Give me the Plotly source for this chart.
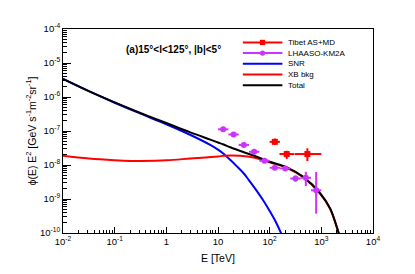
import plotly.graph_objects as go

# ---------------- data ----------------
# SNR model curve (E in TeV, E^2 phi in GeV s^-1 m^-2 sr^-1)
snr_E = [0.01, 0.0316, 0.1, 0.316, 1, 3.16, 7.08, 10, 12.8, 17.8, 23.2, 31.6, 38.9, 56.2, 75.9, 100, 126, 158, 200]
snr_phi = [3.39e-6, 1.48e-6, 6.76e-7, 3.24e-7, 1.58e-7, 7.24e-8, 3.89e-8, 2.82e-8, 2.14e-8, 1.35e-8,
           9.12e-9, 5.62e-9, 3.72e-9, 1.74e-9, 8.91e-10, 4.47e-10, 2.40e-10, 1.17e-10, 5.2e-11]

# XB background curve
xb_E = [0.01, 0.0316, 0.1, 0.2, 0.316, 1, 2.92, 10, 12.8, 17.8, 26.9, 56.2, 100, 214, 447, 955, 1480, 2140, 2510]
xb_phi = [1.86e-8, 1.55e-8, 1.38e-8, 1.32e-8, 1.32e-8, 1.38e-8, 1.55e-8, 1.78e-8, 1.86e-8, 1.91e-8,
          1.86e-8, 1.58e-8, 1.20e-8, 8.32e-9, 4.37e-9, 1.41e-9, 5.13e-10, 1.05e-10, 5.0e-11]

# Total curve
tot_E = [0.01, 0.0316, 0.1, 0.316, 1, 2.92, 7.08, 10, 12.8, 17.8, 31.6, 56.2, 100, 214, 447, 955, 1480, 2140, 2510]
tot_phi = [3.39e-6, 1.48e-6, 6.92e-7, 3.39e-7, 1.72e-7, 9.12e-8, 5.59e-8, 4.60e-8, 4.0e-8, 3.26e-8,
           2.38e-8, 1.75e-8, 1.245e-8, 8.5e-9, 4.47e-9, 1.45e-9, 5.25e-10, 1.07e-10, 5.0e-11]

# LHAASO-KM2A data
lh_E = [12.6, 20.0, 31.6, 50.1, 79.4, 126, 200, 316, 501, 794]
lh_phi = [1.12e-7, 7.9e-8, 3.9e-8, 2.45e-8, 1.33e-8, 8.3e-9, 7.9e-9, 4.0e-9, 4.2e-9, 1.8e-9]
lh_err_up = [1.96e-8, 1.38e-8, 6.8e-9, 4.3e-9, 2.3e-9, 1.5e-9, 1.4e-9, 0.9e-9, 2.1e-9, 4.5e-9]
lh_err_dn = [1.67e-8, 1.18e-8, 5.8e-9, 3.7e-9, 2.0e-9, 1.2e-9, 1.2e-9, 0.8e-9, 1.8e-9, 1.43e-9]
lh_E_lo = [2.6, 4.1, 6.5, 10.3, 16.4, 26, 41, 65, 103, 164]
lh_E_hi = [3.3, 5.2, 8.2, 13.0, 20.6, 33, 52, 82, 130, 206]

# Tibet AS+MD data
tb_E = [126, 214, 537]
tb_phi = [4.8e-8, 2.1e-8, 2.1e-8]
tb_err_up = [1.2e-8, 0.53e-8, 1.0e-8]
tb_err_dn = [0.9e-8, 0.59e-8, 0.8e-8]
tb_E_lo = [26, 59, 228]
tb_E_hi = [32, 88, 463]

x_tick_vals = [1e-2, 1e-1, 1, 10, 1e2, 1e3, 1e4]
x_tick_text = ["10<sup>-2</sup>", "10<sup>-1</sup>", "1", "10", "10<sup>2</sup>", "10<sup>3</sup>", "10<sup>4</sup>"]
y_tick_vals = [1e-10, 1e-9, 1e-8, 1e-7, 1e-6, 1e-5, 1e-4]
y_tick_text = ["10<sup>-10</sup>", "10<sup>-9</sup>", "10<sup>-8</sup>", "10<sup>-7</sup>",
               "10<sup>-6</sup>", "10<sup>-5</sup>", "10<sup>-4</sup>"]

legend_names = ["Tibet AS+MD", "LHAASO-KM2A", "SNR", "XB bkg", "Total"]
legend_colors = ["#ff0000", "#cc33ff", "#0000ff", "#ff0000", "#000000"]

FONT = "Liberation Sans, Arial, sans-serif"
VIOLET = "#cc33ff"

x_minor = [m * 10 ** d for d in range(-2, 4) for m in range(2, 10)]
y_minor = [m * 10.0 ** d for d in range(-10, -4) for m in range(2, 10)]

fig = go.Figure()

fig.add_trace(go.Scatter(x=snr_E, y=snr_phi, mode="lines", line=dict(color="#0000ff", width=2, shape="spline"),
                         showlegend=False))
fig.add_trace(go.Scatter(x=xb_E, y=xb_phi, mode="lines", line=dict(color="#ff0000", width=2, shape="spline"),
                         showlegend=False))
fig.add_trace(go.Scatter(x=tot_E, y=tot_phi, mode="lines", line=dict(color="#000000", width=2, shape="spline"),
                         showlegend=False))

fig.add_trace(go.Scatter(
    x=lh_E, y=lh_phi, mode="markers",
    marker=dict(symbol="circle", size=6, color=VIOLET),
    error_y=dict(type="data", symmetric=False, array=lh_err_up, arrayminus=lh_err_dn,
                 width=0, thickness=2, color=VIOLET),
    error_x=dict(type="data", symmetric=False, array=lh_E_hi, arrayminus=lh_E_lo,
                 width=0, thickness=2, color=VIOLET),
    showlegend=False))

fig.add_trace(go.Scatter(
    x=tb_E, y=tb_phi, mode="markers",
    marker=dict(symbol="square", size=6, color="#ff0000"),
    error_y=dict(type="data", symmetric=False, array=tb_err_up, arrayminus=tb_err_dn,
                 width=0, thickness=2, color="#ff0000"),
    error_x=dict(type="data", symmetric=False, array=tb_E_hi, arrayminus=tb_E_lo,
                 width=0, thickness=2, color="#ff0000"),
    showlegend=False))

axis_common = dict(type="log", showline=True, linecolor="#000000", linewidth=1, mirror=True,
                   ticks="inside", tickcolor="#000000", showgrid=False, zeroline=False,
                   tickfont=dict(family=FONT, size=9.5, color="#000000"))

fig.update_xaxes(range=[-2, 4], tickmode="array", tickvals=x_tick_vals, ticktext=x_tick_text, ticklen=6,
                 minor=dict(tickmode="array", tickvals=x_minor, ticks="inside", ticklen=3, tickcolor="#000000"),
                 **axis_common)
fig.update_yaxes(range=[-10, -4], tickmode="array", tickvals=y_tick_vals, ticktext=y_tick_text, ticklen=8,
                 minor=dict(tickmode="array", tickvals=y_minor, ticks="inside", ticklen=4, tickcolor="#000000"),
                 title=dict(text="ϕ(E) E<sup>2</sup> [GeV s<sup>-1</sup>m<sup>-2</sup>sr<sup>-1</sup>]"
                                 + "\u00a0" * 8,
                            font=dict(family=FONT, size=10.5, color="#000000"), standoff=1),
                 **axis_common)

annotations = [
    dict(text="<b>(a)15°<l<125°, |b|<5°</b>", xref="paper", yref="paper", x=0.1975, y=0.898,
         xanchor="left", yanchor="middle", showarrow=False, font=dict(family=FONT, size=10, color="#000000")),
    dict(text="E [TeV]", xref="paper", yref="paper", x=0.5, y=-0.124, xanchor="center", yanchor="middle",
         showarrow=False, font=dict(family=FONT, size=10.5, color="#000000")),
]

shapes = []
leg_y = [0.9341, 0.882, 0.8294, 0.7768, 0.7247]
for i, (name, col) in enumerate(zip(legend_names, legend_colors)):
    y = leg_y[i]
    annotations.append(dict(text=name, xref="paper", yref="paper", x=0.7187, y=y, xanchor="left",
                            yanchor="middle", showarrow=False, font=dict(family=FONT, size=8, color="#000000")))
    shapes.append(dict(type="line", xref="paper", yref="paper", x0=0.5801, x1=0.7077, y0=y, y1=y,
                       line=dict(color=col, width=2)))
    if i < 2:
        shapes.append(dict(type="rect" if i == 0 else "circle", xref="paper", yref="paper",
                           x0=0.6436 - 0.0085, x1=0.6436 + 0.0085, y0=y - 0.013, y1=y + 0.013,
                           fillcolor=col, line=dict(color=col, width=0)))

# the page body adds an 8 px margin, so the figure is sized/offset to land the
# plot frame at the reference position inside the 415x274 window
fig.update_layout(width=399, height=258, margin=dict(l=55, r=34, t=21, b=33),
                  paper_bgcolor="white", plot_bgcolor="white", showlegend=False,
                  annotations=annotations, shapes=shapes,
                  font=dict(family=FONT, color="#000000"))

fig.write_html("out.html")
